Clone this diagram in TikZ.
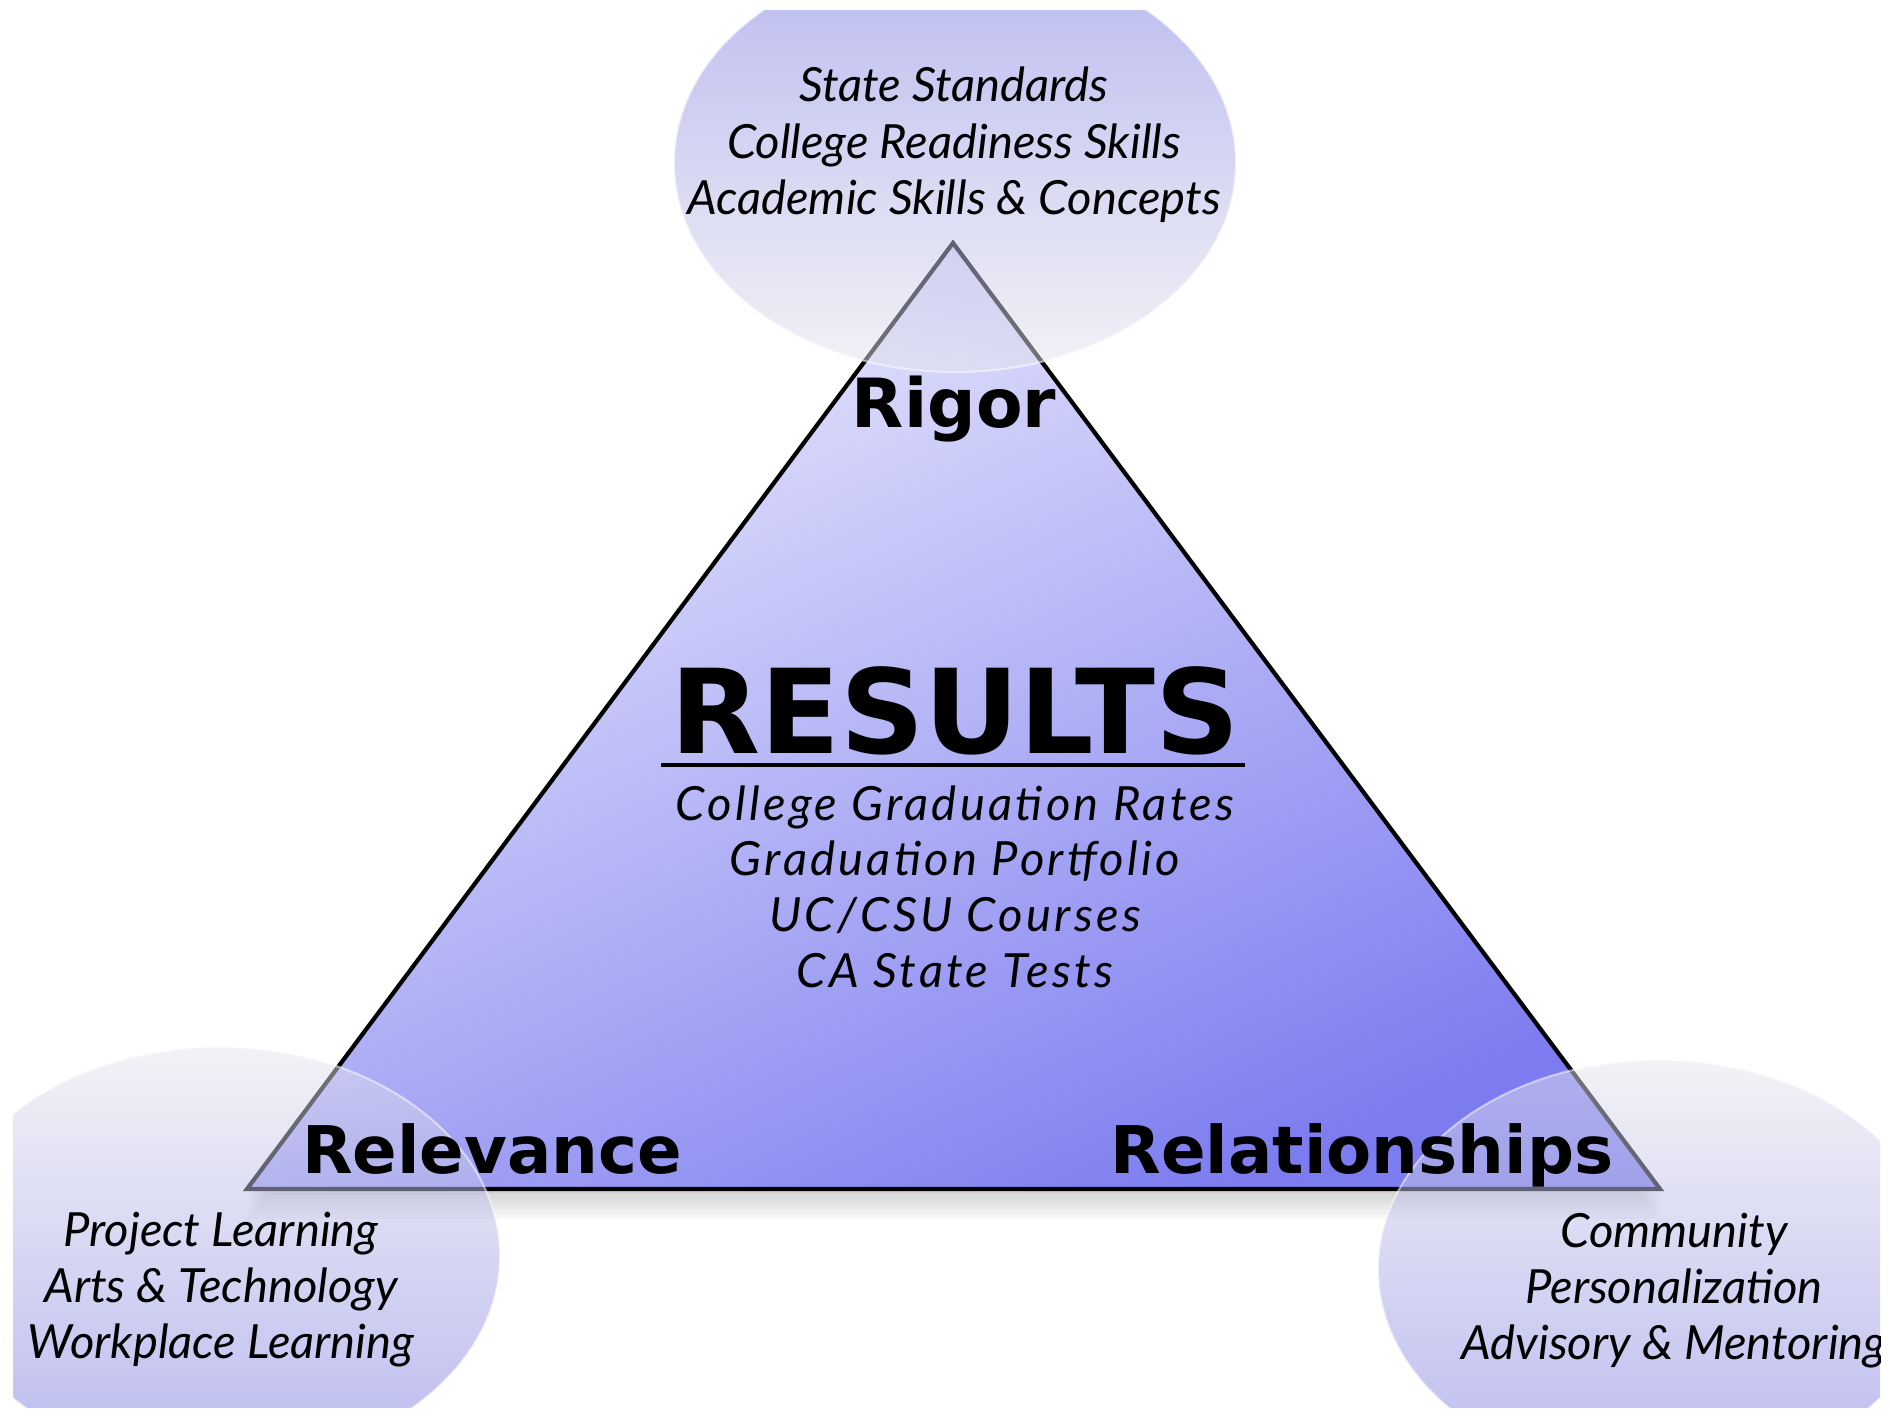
\documentclass[tikz,border=0pt]{standalone}
\usepackage{fontspec}
\setmainfont{Lato}
\newfontfamily\headfont{DejaVu Sans}
\usetikzlibrary{calc}

\definecolor{tritop}{RGB}{236,236,253}
\definecolor{tribot}{RGB}{124,124,240}
\definecolor{bubdark}{RGB}{118,118,225}
\definecolor{bublight}{RGB}{230,230,238}

\begin{document}
\begin{tikzpicture}[
    bubble/.style={opacity=0.5},
    rim/.style={draw=white, draw opacity=0.5, line width=0.6pt},
    topic/.style={font=\headfont\fontsize{18.7}{22}\selectfont\bfseries, anchor=base},
    item/.style={font=\fontsize{13.4}{16.1}\selectfont\itshape, align=center, anchor=base}
]
    \useasboundingbox (0,0) rectangle (18.9,14.19);
    \begin{scope}
    \clip (0.13,0.12) rectangle (18.80,14.08);

    % Corners of the triangle
    \coordinate (apex) at (9.53,11.76);
    \coordinate (left) at (2.47,2.30);
    \coordinate (right) at (16.60,2.30);

    % Soft shadow
    \foreach \s in {1,...,6}
        \fill[black, opacity=0.03, transform canvas={yshift=-\s*0.5mm}] (apex) -- (left) -- (right) -- cycle;

    % Triangle
    \shade[top color=tritop, bottom color=tribot, shading angle=25] (apex) -- (left) -- (right) -- cycle;
    \draw[line width=1.2pt] (apex) -- (left) -- (right) -- cycle;

    % Bubbles
    \shade[bubble, top color=bubdark, bottom color=bublight] (9.55,12.56) ellipse [x radius=2.81, y radius=2.09];
    \shade[bubble, top color=bublight, bottom color=bubdark] (2.19,1.63) ellipse [x radius=2.81, y radius=2.09];
    \shade[bubble, top color=bublight, bottom color=bubdark] (16.59,1.50) ellipse [x radius=2.81, y radius=2.09];
    \draw[rim] (9.55,12.56) ellipse [x radius=2.81, y radius=2.09];
    \draw[rim] (2.19,1.63) ellipse [x radius=2.81, y radius=2.09];
    \draw[rim] (16.59,1.50) ellipse [x radius=2.81, y radius=2.09];
    \end{scope}

    % Corner labels
    \node[topic, font=\headfont\fontsize{19.3}{22}\selectfont\bfseries] (rigor) at (9.54,9.91) {Rigor};
    \node[topic] (relevance) at (4.92,2.46) {Relevance};
    \node[topic] (relationships) at (13.62,2.46) {Relationships};

    % Results in the middle
    \node[font=\headfont\fontsize{33.3}{36}\selectfont\bfseries, anchor=base] (results) at (9.55,6.66) {RESULTS};
    \draw[line width=1.2pt] (6.61,6.54) -- (12.45,6.54);
    \node[item, font=\fontsize{13.4}{15.8}\selectfont\itshape\addfontfeature{LetterSpace=7}] (measures) at (9.55,4.32)
        {College Graduation Rates\\Graduation Portfolio\\UC/CSU Courses\\CA State Tests};

    % Bubble texts
    \begin{scope}
    \clip (0.13,0.12) rectangle (18.80,14.08);
    \node[item] (rigorlist) at (9.54,12.04) {State Standards\\College Readiness Skills\\Academic Skills \& Concepts};
    \node[item, font=\fontsize{13.4}{15.8}\selectfont\itshape] (relevlist) at (2.21,0.61)
        {Project Learning\\Arts \& Technology\\Workplace Learning};
    \node[item, font=\fontsize{13.4}{15.8}\selectfont\itshape] (relatlist) at (16.74,0.60)
        {Community\\Personalization\\Advisory \& Mentoring};
    \end{scope}
\end{tikzpicture}
\end{document}
